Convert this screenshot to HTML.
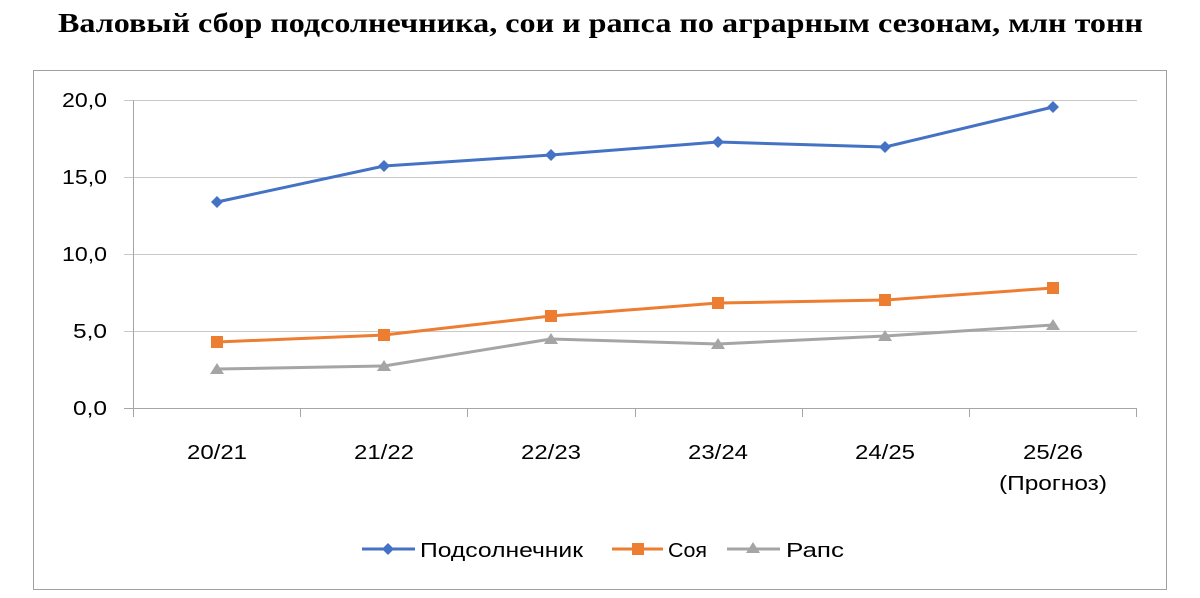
<!DOCTYPE html>
<html><head><meta charset="utf-8"><style>
html,body{margin:0;padding:0;background:#fff;}
svg{display:block;}
</style></head><body>
<svg width="1200" height="598" xmlns="http://www.w3.org/2000/svg">
<text x="58" y="32" textLength="1085" lengthAdjust="spacingAndGlyphs" font-family="Liberation Serif, serif" font-weight="bold" font-size="27" fill="#000">Валовый сбор подсолнечника, сои и рапса по аграрным сезонам, млн тонн</text>
<rect x="33.5" y="70.5" width="1133" height="519" fill="none" stroke="#a0a0a0" stroke-width="1"/>
<g stroke="#c8c8c8" stroke-width="1">
<line x1="124" y1="100.5" x2="1137" y2="100.5"/>
<line x1="124" y1="177.5" x2="1137" y2="177.5"/>
<line x1="124" y1="254.5" x2="1137" y2="254.5"/>
<line x1="124" y1="331.5" x2="1137" y2="331.5"/>
</g>
<g stroke="#a6a6a6" stroke-width="1">
<line x1="124" y1="408.5" x2="1137" y2="408.5"/>
<line x1="133.5" y1="100" x2="133.5" y2="408"/>
<line x1="133.5" y1="408" x2="133.5" y2="417"/>
<line x1="300.5" y1="408" x2="300.5" y2="417"/>
<line x1="467.5" y1="408" x2="467.5" y2="417"/>
<line x1="635.5" y1="408" x2="635.5" y2="417"/>
<line x1="802.5" y1="408" x2="802.5" y2="417"/>
<line x1="969.5" y1="408" x2="969.5" y2="417"/>
<line x1="1136.5" y1="408" x2="1136.5" y2="417"/>
</g>
<g font-family="Liberation Sans, sans-serif" font-size="20" fill="#000">
<text x="62" y="107" textLength="45" lengthAdjust="spacingAndGlyphs">20,0</text>
<text x="62" y="184" textLength="45" lengthAdjust="spacingAndGlyphs">15,0</text>
<text x="62" y="261" textLength="45" lengthAdjust="spacingAndGlyphs">10,0</text>
<text x="73" y="338" textLength="34" lengthAdjust="spacingAndGlyphs">5,0</text>
<text x="73" y="415" textLength="34" lengthAdjust="spacingAndGlyphs">0,0</text>
</g>
<g font-family="Liberation Sans, sans-serif" font-size="20" fill="#000">
<text x="187" y="459" textLength="60" lengthAdjust="spacingAndGlyphs">20/21</text>
<text x="354" y="459" textLength="60" lengthAdjust="spacingAndGlyphs">21/22</text>
<text x="521" y="459" textLength="60" lengthAdjust="spacingAndGlyphs">22/23</text>
<text x="688" y="459" textLength="60" lengthAdjust="spacingAndGlyphs">23/24</text>
<text x="855" y="459" textLength="60" lengthAdjust="spacingAndGlyphs">24/25</text>
<text x="1023" y="459" textLength="60" lengthAdjust="spacingAndGlyphs">25/26</text>
<text x="999" y="490" textLength="108" lengthAdjust="spacingAndGlyphs">(Прогноз)</text>
</g>
<polyline fill="none" stroke="#4472c4" stroke-width="3" stroke-linejoin="round" points="217,202 384,166 551,155 718,142 885,147 1053,107"/>
<g fill="#4472c4">
<polygon points="217,196 223,202 217,208 211,202"/>
<polygon points="384,160 390,166 384,172 378,166"/>
<polygon points="551,149 557,155 551,161 545,155"/>
<polygon points="718,136 724,142 718,148 712,142"/>
<polygon points="885,141 891,147 885,153 879,147"/>
<polygon points="1053,101 1059,107 1053,113 1047,107"/>
</g>
<polyline fill="none" stroke="#ed7d31" stroke-width="3" stroke-linejoin="round" points="217,342 384,335 551,316 718,303 885,300 1053,288"/>
<g fill="#ed7d31">
<rect x="211" y="336" width="12" height="12"/>
<rect x="378" y="329" width="12" height="12"/>
<rect x="545" y="310" width="12" height="12"/>
<rect x="712" y="297" width="12" height="12"/>
<rect x="879" y="294" width="12" height="12"/>
<rect x="1047" y="282" width="12" height="12"/>
</g>
<polyline fill="none" stroke="#a5a5a5" stroke-width="3" stroke-linejoin="round" points="217,369 384,366 551,339 718,344 885,336 1053,325"/>
<g fill="#a5a5a5">
<polygon points="217,363 224,374 210,374"/>
<polygon points="384,360 391,371 377,371"/>
<polygon points="551,333 558,344 544,344"/>
<polygon points="718,338 725,349 711,349"/>
<polygon points="885,330 892,341 878,341"/>
<polygon points="1053,319 1060,330 1046,330"/>
</g>
<line x1="362" y1="549" x2="415" y2="549" stroke="#4472c4" stroke-width="3"/>
<polygon points="388,543 394,549 388,555 382,549" fill="#4472c4"/>
<text x="420" y="557" textLength="163" lengthAdjust="spacingAndGlyphs" font-family="Liberation Sans, sans-serif" font-size="20">Подсолнечник</text>
<line x1="612" y1="549" x2="663" y2="549" stroke="#ed7d31" stroke-width="3"/>
<rect x="632" y="543" width="12" height="12" fill="#ed7d31"/>
<text x="668" y="557" textLength="39" lengthAdjust="spacingAndGlyphs" font-family="Liberation Sans, sans-serif" font-size="20">Соя</text>
<line x1="727" y1="549" x2="780" y2="549" stroke="#a5a5a5" stroke-width="3"/>
<polygon points="753,542 760,553 746,553" fill="#a5a5a5"/>
<text x="786" y="557" textLength="58" lengthAdjust="spacingAndGlyphs" font-family="Liberation Sans, sans-serif" font-size="20">Рапс</text>
</svg>
</body></html>
